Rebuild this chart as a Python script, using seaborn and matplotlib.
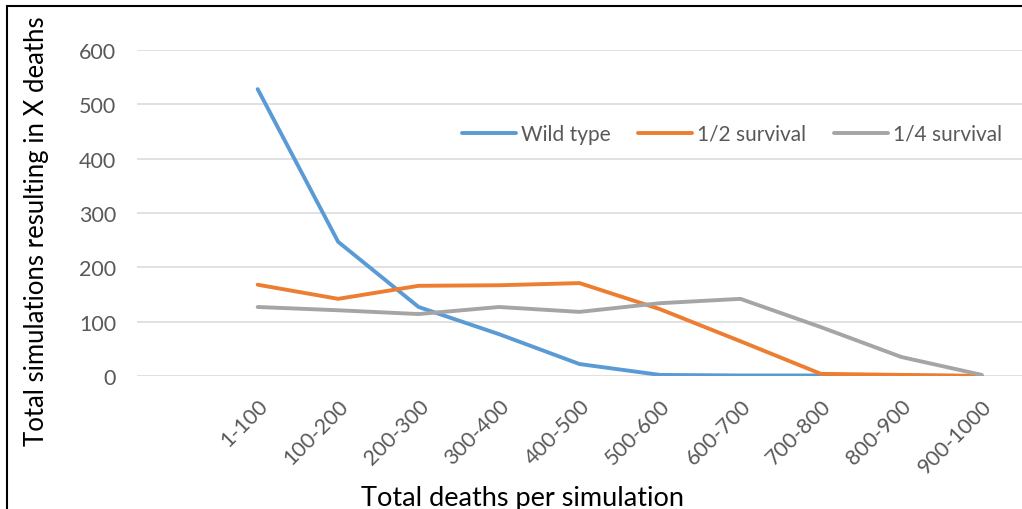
import matplotlib
matplotlib.use("Agg")
import matplotlib.pyplot as plt
import seaborn as sns
import pandas as pd
from matplotlib.patches import Rectangle

categories = ["1-100", "100-200", "200-300", "300-400", "400-500",
              "500-600", "600-700", "700-800", "800-900", "900-1000"]
wild_type = [528, 247, 127, 77, 22, 2, 1, 1, 1, 0]
half_survival = [168, 142, 166, 167, 171, 123, 64, 4, 2, 0]
quarter_survival = [127, 121, 114, 127, 118, 134, 142, 90, 35, 2]
series_names = ["Wild type", "1/2 survival", "1/4 survival"]
colors = ["#5B9BD5", "#ED7D31", "#A5A5A5"]

rows = []
for name, vals in zip(series_names, [wild_type, half_survival, quarter_survival]):
    for c, v in zip(categories, vals):
        rows.append({"cat": c, "value": v, "series": name})
df = pd.DataFrame(rows)

sns.set_theme(style="white")
plt.rcParams["font.family"] = ["Lato", "DejaVu Sans"]

fig = plt.figure(figsize=(10.22, 5.10), dpi=100)
ax = fig.add_axes([137/1022, 1-377/510, 1-137/1022, (377-51)/510])

sns.lineplot(data=df, x="cat", y="value", hue="series", palette=colors,
             hue_order=series_names, linewidth=2.8, ax=ax, sort=False)

ax.set_xlim(-1.5, 9.5)
ax.set_ylim(0, 600)
ax.set_yticks([0, 100, 200, 300, 400, 500, 600])
ax.grid(axis="y", color="#d9d9d9", linewidth=1.1)
ax.set_axisbelow(True)
for s in ax.spines.values():
    s.set_visible(False)
ax.tick_params(axis="both", length=0, colors="#595959", labelsize=15.5)
ax.tick_params(axis="y", pad=15)
ax.set_xticks(range(len(categories)))
ax.set_xticklabels(categories, rotation=45, ha="right", va="top",
                   rotation_mode="anchor")
ax.tick_params(axis="x", pad=14)
ax.set_xlabel("")
ax.set_ylabel("")

fig.text(522/1022, 1-499/510, "Total deaths per simulation", ha="center",
         va="center", fontsize=19.5, color="#000000")
fig.text(37/1022, 1-446/510, "Total simulations resulting in X deaths",
         rotation=90, ha="center", va="bottom", fontsize=18.5, color="#000000")

leg = ax.legend(ncol=3, loc="center left", frameon=False,
                bbox_to_anchor=(462/1022, 1-135/510), bbox_transform=fig.transFigure,
                handlelength=2.6, columnspacing=1.3, handletextpad=0.25,
                fontsize=15, borderpad=0, borderaxespad=0)
for t in leg.get_texts():
    t.set_color("#595959")

fig.patches.append(Rectangle((7/1022, -0.1), 1.2, 1 - 7/510 + 0.1,
                             transform=fig.transFigure, fill=False,
                             edgecolor="black", linewidth=1.5))

fig.savefig("out.png", dpi=100)
